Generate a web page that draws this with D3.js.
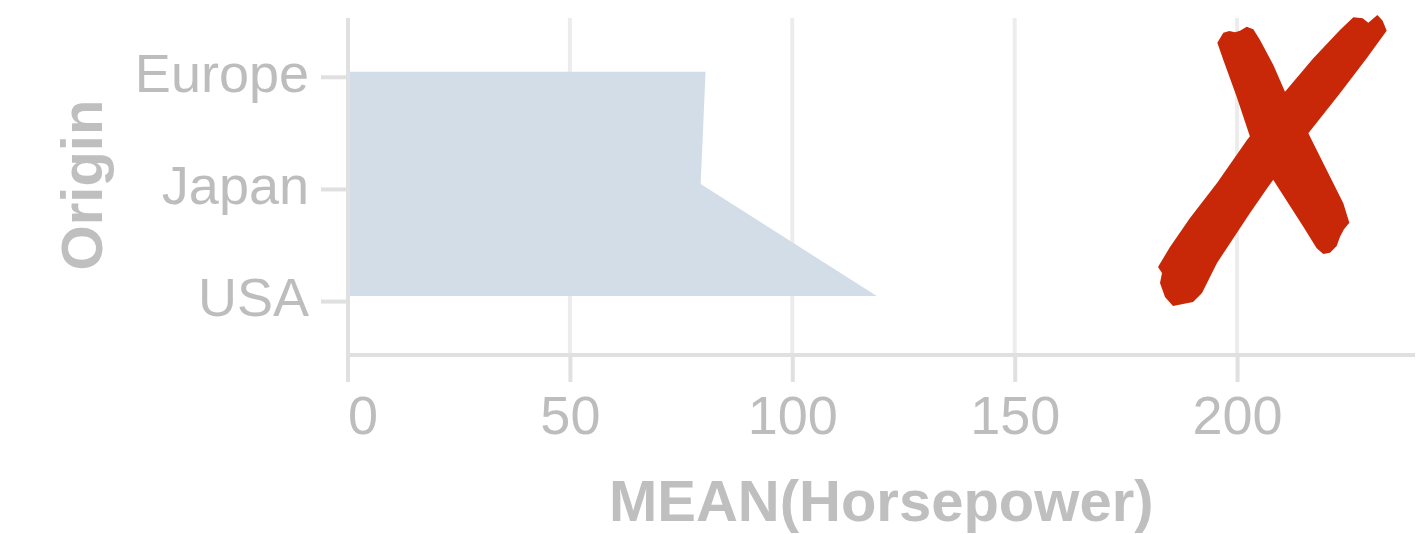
<!DOCTYPE html>
<html>
<head>
<meta charset="utf-8">
<script src="https://cdn.jsdelivr.net/npm/d3@7"></script>
<style>
  body { margin: 0; background: #fff; }
  svg { display: block; font-family: 'Liberation Sans', Arial, Helvetica, sans-serif; }
  .grid line { stroke: #ececec; stroke-width: 4; }
  .axis path, .axis line { stroke: #e0e0e0; stroke-width: 4; fill: none; }
  .axis text { fill: #bdbdbd; font-size: 54px; }
  .axis-title { fill: #bfbfbf; font-size: 58px; font-weight: bold; }
</style>
</head>
<body>
<div id="chart"></div>
<script>
var origins = ['Europe', 'Japan', 'USA'];
var meanHorsepower = [80.5, 79.4, 119.0];
var xTicks = [0, 50, 100, 150, 200];
var xDomain = [0, 240];

// hand drawn cross, in its own little box
var crossStrokeA = [[232,128],[250,98],[268,93],[285,97],[300,92],[320,80],[340,88],[360,120],[400,195],[435,275],[505,400],[560,510],[610,610],[628,668],[612,688],[600,710],[590,738],[570,758],[550,762],[530,745],[490,680],[400,540],[330,410],[290,290],[250,180]];
var crossStrokeB = [[640,52],[668,55],[685,68],[712,45],[728,62],[740,92],[680,175],[600,280],[505,400],[450,470],[384,561],[330,639],[231,789],[186,879],[159,906],[99,918],[75,891],[60,849],[66,819],[54,801],[90,741],[150,654],[231,549],[321,420],[400,320],[435,275],[520,175],[600,90]];

var width = 1424, height = 534;

var svg = d3.select('#chart')
    .append('svg')
    .attr('width', width)
    .attr('height', height);

var x = d3.scaleLinear()
    .domain(xDomain)
    .range([347.5, 1415]);

var y = d3.scalePoint()
    .domain(origins)
    .range([15.7, 352.2])
    .padding(0.5);

var data = origins.map(function(d, i) { return { origin: d, value: meanHorsepower[i] }; });

// gridlines
svg.append('g')
    .attr('class', 'grid')
    .selectAll('line')
    .data(xTicks.slice(1))
    .enter().append('line')
    .attr('x1', function(d) { return x(d); })
    .attr('x2', function(d) { return x(d); })
    .attr('y1', 18)
    .attr('y2', 355);

// area
var area = d3.area()
    .y(function(d) { return y(d.origin); })
    .x0(x(0))
    .x1(function(d) { return x(d.value); });

svg.append('path')
    .datum(data)
    .attr('d', area)
    .style('fill', '#d3dde8');

// x axis
var xAxis = svg.append('g')
    .attr('class', 'axis x-axis')
    .attr('transform', 'translate(0,355)')
    .call(d3.axisBottom(x).tickValues(xTicks).tickSize(27).tickSizeOuter(0).tickPadding(14));

xAxis.select('.domain').attr('d', 'M' + x.range()[0] + ',0H' + x.range()[1]);
xAxis.selectAll('text').attr('dy', '0.71em');
xAxis.selectAll('.tick').filter(function(d) { return d === 0; })
    .select('text').attr('text-anchor', 'start').attr('x', 0);

// y axis
var yAxis = svg.append('g')
    .attr('class', 'axis y-axis')
    .attr('transform', 'translate(348,0)')
    .call(d3.axisLeft(y).tickSize(27).tickSizeOuter(0).tickPadding(12));

yAxis.select('.domain').attr('d', 'M0,18V381');
yAxis.selectAll('.tick line').attr('transform', 'translate(0,5)');
yAxis.selectAll('.tick text').attr('dy', '0.36em');

// axis titles
svg.append('text')
    .attr('class', 'axis-title')
    .attr('x', (x.range()[0] + x.range()[1]) / 2)
    .attr('y', 521)
    .attr('text-anchor', 'middle')
    .text('MEAN(Horsepower)');

svg.append('text')
    .attr('class', 'axis-title')
    .attr('transform', 'translate(102,185) rotate(-90)')
    .attr('text-anchor', 'middle')
    .text('Origin');

// red cross on top
var cross = svg.append('g')
    .attr('transform', 'translate(1140,0) scale(' + (1 / 3) + ')');

var crossLine = d3.line().curve(d3.curveLinearClosed);

cross.selectAll('path')
    .data([crossStrokeA, crossStrokeB])
    .enter().append('path')
    .attr('d', crossLine)
    .style('fill', '#c92808');
</script>
</body>
</html>
